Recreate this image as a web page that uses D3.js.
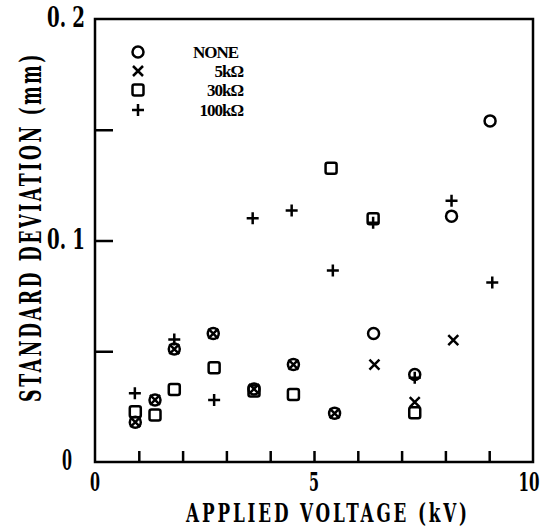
<!DOCTYPE html>
<meta charset="utf-8">
<script src="https://d3js.org/d3.v7.min.js"></script>
<style>
  body { margin: 0; background: #fff; }
</style>
<div id="chart"></div>
<script>

// data (kV, mm)
const voltsNone = [0.92, 1.37, 1.81, 2.70, 3.63, 4.53, 5.47, 6.36, 7.30, 8.14, 9.02];
const sdNone    = [0.018, 0.028, 0.051, 0.058, 0.033, 0.044, 0.022, 0.058, 0.0395, 0.111, 0.154];
const volts5k   = [0.92, 1.37, 1.81, 2.70, 3.63, 4.53, 5.47, 6.38, 7.30, 8.18];
const sd5k      = [0.018, 0.028, 0.051, 0.058, 0.033, 0.044, 0.022, 0.044, 0.027, 0.055];
const volts30k  = [0.92, 1.37, 1.81, 2.72, 3.63, 4.53, 5.39, 6.35, 7.30];
const sd30k     = [0.0227, 0.0212, 0.0327, 0.0425, 0.032, 0.0305, 0.1326, 0.1098, 0.0222];
const volts100k = [0.91, 1.81, 2.72, 3.60, 4.49, 5.43, 6.35, 7.30, 8.14, 9.07];
const sd100k    = [0.031, 0.0553, 0.028, 0.110, 0.1135, 0.0865, 0.108, 0.038, 0.118, 0.081];

const seriesNames = ["NONE", "5kΩ", "30kΩ", "100kΩ"];
const seriesShapes = ["circle", "x", "square", "plus"];

const xTickMarks = [1, 2, 3, 4, 5, 6, 7, 8, 9];
const xTickLabels = [0, 5, 10];
const yTickMarks = [0.05, 0.1, 0.15];
const yTickLabels = [0, 0.1, 0.2];

const width = 544, height = 529;
const font = '"DejaVu Serif Condensed", "DejaVu Serif", serif';

const svg = d3.select("#chart")
  .append("svg")
    .attr("width", width)
    .attr("height", height)
    .style("background", "#fff");

const x = d3.scaleLinear().domain([0, 10]).range([95, 533]);
const y = d3.scaleLinear().domain([0, 0.2]).range([462, 19]);

// squeeze a text horizontally to a wanted width (the scan uses a very narrow face)
function squeeze(sel, px, py, w, rot) {
  sel.each(function() {
    const len = this.getComputedTextLength();
    const k = Math.min(1, w / len);
    d3.select(this).attr("transform",
      "translate(" + px + "," + py + ")" + (rot ? " rotate(" + rot + ")" : "") + " scale(" + k + ",1)");
  });
}

// inner ticks
svg.append("g")
  .attr("transform", "translate(0," + y(0) + ")")
  .call(d3.axisBottom(x).tickValues(xTickMarks).tickSizeInner(-11).tickSizeOuter(0).tickFormat(""))
  .call(g => g.select(".domain").remove())
  .call(g => g.selectAll("line").attr("stroke", "#000").attr("stroke-width", 2.5));

svg.append("g")
  .attr("transform", "translate(" + x(0) + ",0)")
  .call(d3.axisLeft(y).tickValues(yTickMarks).tickSizeInner(-18).tickSizeOuter(0).tickFormat(""))
  .call(g => g.select(".domain").remove())
  .call(g => g.selectAll("line").attr("stroke", "#000").attr("stroke-width", 2.5));

// frame
svg.append("rect")
  .attr("x", x(0))
  .attr("y", y(0.2))
  .attr("width", x(10) - x(0))
  .attr("height", y(0) - y(0.2))
  .attr("fill", "none")
  .attr("stroke", "#000")
  .attr("stroke-width", 2.5);

// tick labels
xTickLabels.forEach(d => {
  svg.append("text")
    .attr("text-anchor", "middle")
    .attr("font-family", font)
    .attr("font-weight", "bold")
    .attr("font-size", 26)
    .text(d)
    .call(squeeze, d === 10 ? x(d) - 4 : x(d), y(0) + 29, d === 10 ? 21 : 10);
});

yTickLabels.forEach(d => {
  svg.append("text")
    .attr("text-anchor", "end")
    .attr("font-family", font)
    .attr("font-weight", "bold")
    .attr("font-size", 27)
    .text(d === 0 ? "0" : d3.format(".1f")(d).replace(".", ". "))
    .call(squeeze, d === 0 ? 72 : 85, y(d) + 8, d === 0 ? 10 : 38);
});

// axis titles
svg.append("text")
  .attr("text-anchor", "middle")
  .attr("font-family", font)
  .attr("font-weight", "bold")
  .attr("font-size", 26)
  .attr("letter-spacing", 4)
  .text("APPLIED VOLTAGE (kV)")
  .call(squeeze, 328, 522, 284);

svg.append("text")
  .attr("text-anchor", "middle")
  .attr("font-family", font)
  .attr("font-weight", "bold")
  .attr("font-size", 30)
  .attr("letter-spacing", 4)
  .text("STANDARD DEVIATION (mm)")
  .call(squeeze, 41, 227, 350, -90);

// marker drawing
function drawMarker(g, shape, cx, cy) {
  const s = g.append("g").attr("transform", "translate(" + cx + "," + cy + ")");
  const st = sel => sel.attr("fill", "none").attr("stroke", "#000").attr("stroke-width", 2.5);
  if (shape === "circle") {
    s.append("circle").attr("r", 5.5).call(st);
  } else if (shape === "square") {
    s.append("rect").attr("x", -5.5).attr("y", -5.5).attr("width", 11).attr("height", 11)
      .attr("rx", 2).call(st);
  } else if (shape === "x") {
    s.append("path").attr("d", "M-5,-5L5,5M-5,5L5,-5").call(st);
  } else {
    s.append("path").attr("d", "M-6,0L6,0M0,-6L0,6").call(st);
  }
}

const series = [
  {volts: voltsNone, sd: sdNone},
  {volts: volts5k, sd: sd5k},
  {volts: volts30k, sd: sd30k},
  {volts: volts100k, sd: sd100k}
];

const marks = svg.append("g");
series.forEach((s, i) => {
  s.volts.forEach((v, j) => drawMarker(marks, seriesShapes[i], x(v), y(s.sd[j])));
});

// legend
const legend = svg.append("g");
const legendY = [52, 71, 90, 110];
seriesNames.forEach((name, i) => {
  drawMarker(legend, seriesShapes[i], 138, legendY[i]);
  legend.append("text")
    .attr("x", i === 0 ? 193 : 243)
    .attr("y", legendY[i] + 6)
    .attr("text-anchor", i === 0 ? "start" : "end")
    .attr("font-family", '"Liberation Serif", serif')
    .attr("font-weight", "bold")
    .attr("font-size", 17)
    .attr("letter-spacing", -1)
    .text(name);
});

</script>
